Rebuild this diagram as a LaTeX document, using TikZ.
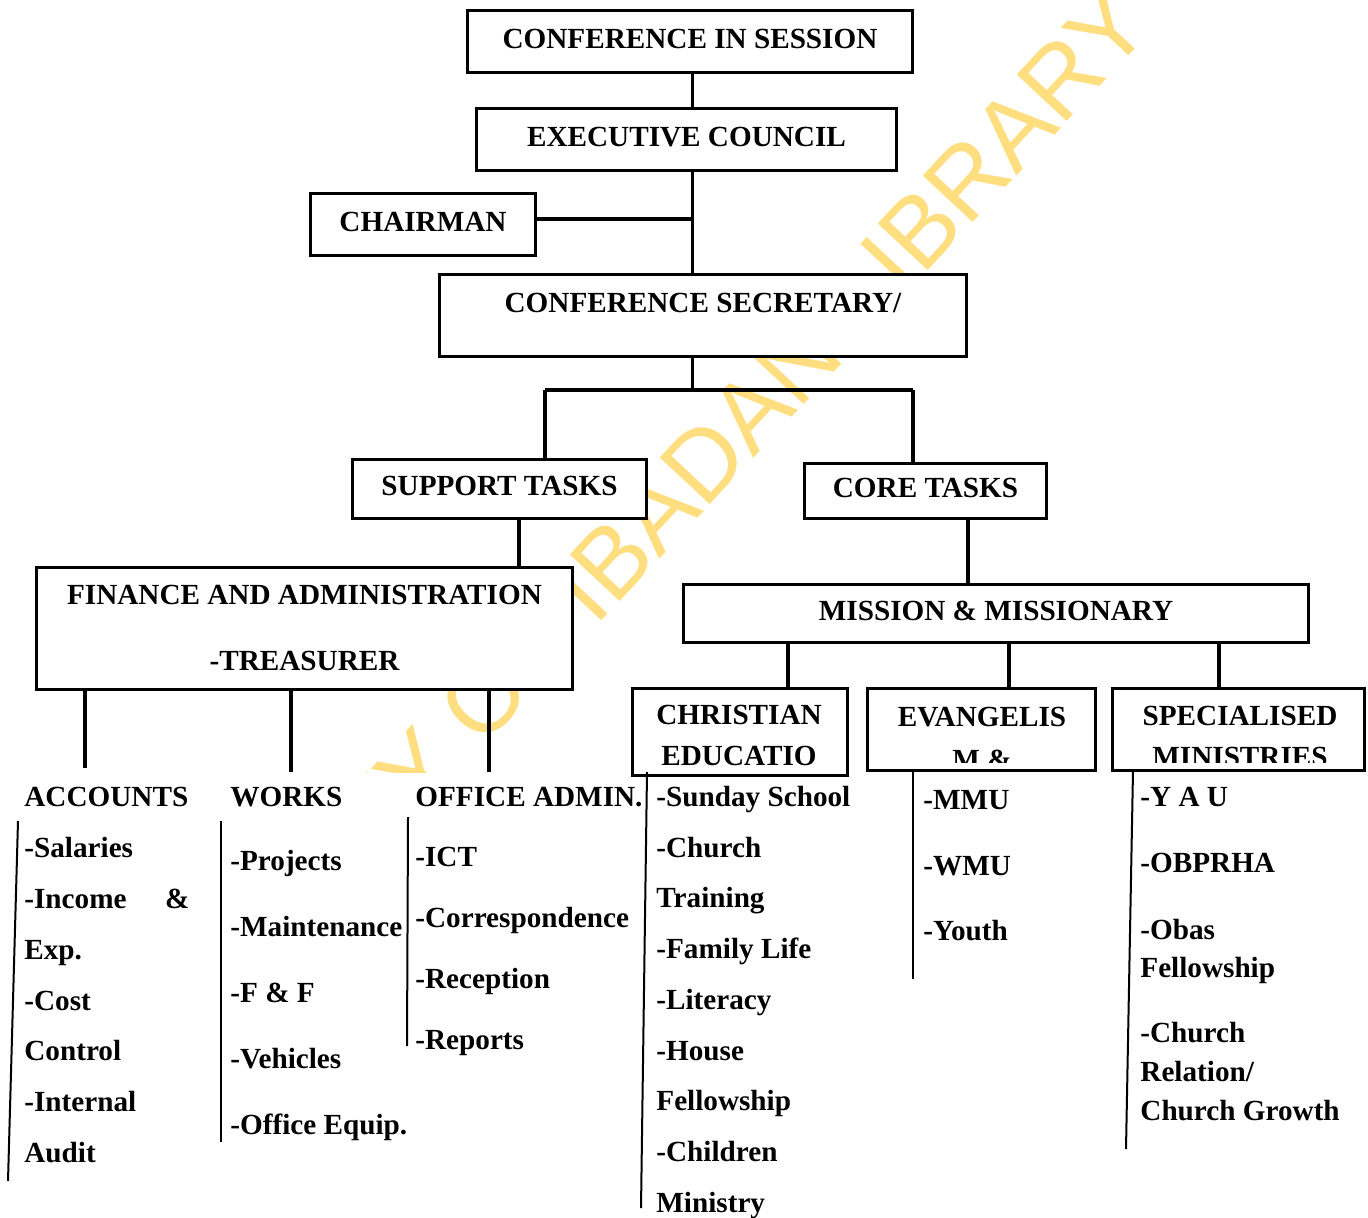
\documentclass[tikz,border=0pt]{standalone}
\usepackage{fontspec}
\setmainfont{Liberation Serif}
\newfontfamily\wmfont{Liberation Sans}
\definecolor{wmyellow}{RGB}{255,222,128}

\begin{document}
\begin{tikzpicture}[x=0.5pt,y=-0.5pt,
    org box/.style={rectangle,draw,fill=white,line width=1.6pt,inner sep=0pt,
        font=\fontsize{14.6}{17}\selectfont\bfseries,text height=9.7pt,text depth=3pt},
    box text/.style={inner sep=0pt,font=\fontsize{14.6}{17}\selectfont\bfseries,
        text height=9.7pt,text depth=0pt},
    list item/.style={anchor=base west,inner sep=0pt,font=\fontsize{14.6}{17}\selectfont\bfseries},
    link/.style={line width=1.6pt},
    list line/.style={line width=1pt}]
    \useasboundingbox (0,0) rectangle (1368,1218);

    % watermark, hidden below by the boxes
    \begin{scope}
    \clip (0,0) rectangle (1368,772);
    \node[rotate=47,anchor=base east,inner sep=0pt,text=wmyellow,
        font=\wmfont\fontsize{49.6}{50}\selectfont] (wm) at (1155,28) {UNIVERSITY OF IBADAN LIBRARY};
    \end{scope}

    % boxes
    \node[org box,minimum width=222.2pt,minimum height=30.8pt] (cis) at (690,41.5) {CONFERENCE IN SESSION};
    \node[org box,minimum width=209.8pt,minimum height=30.8pt] (exec) at (686.5,139.5) {EXECUTIVE COUNCIL};
    \node[org box,minimum width=112.2pt,minimum height=30.8pt] (chair) at (423,224.5) {CHAIRMAN};
    \node[org box,minimum width=263.2pt,minimum height=40.8pt,text depth=12.5pt] (secr) at (703,315.5) {CONFERENCE SECRETARY/};
    \node[org box,minimum width=146.8pt,minimum height=29.2pt] (support) at (499.5,489) {SUPPORT TASKS};
    \node[org box,minimum width=120.8pt,minimum height=27.2pt] (core) at (925.5,491) {CORE TASKS};
    \node[org box,minimum width=267.8pt,minimum height=60.8pt] (fin) at (304.5,628.5) {};
    \node[box text] (fin1) at (304.5,595) {FINANCE AND ADMINISTRATION};
    \node[box text] (fin2) at (304.5,660.5) {-TREASURER};
    \node[org box,minimum width=312.2pt,minimum height=28.8pt] (mission) at (996,613.5) {MISSION \& MISSIONARY};
    \node[org box,minimum width=107.5pt,minimum height=43.2pt] (chr) at (739.75,732) {};
    \node[box text] (chr1) at (739,715) {CHRISTIAN};
    \node[box text] (chr2) at (739,756) {EDUCATIO};
    \node[org box,minimum width=113.8pt,minimum height=40.8pt] (evang) at (981.5,729.5) {};
    \node[org box,minimum width=126pt,minimum height=40.8pt] (spec) at (1238.25,729.5) {};
    \node[box text] (evang1) at (982,717) {EVANGELIS};
    \node[box text] (spec1) at (1240,716) {SPECIALISED};
    \begin{scope}
    \clip (860,690) rectangle (1368,762.5);
    \node[box text] (evang2) at (982,760) {M \&};
    \node[box text] (spec2) at (1240,757) {MINISTRIES};
    \end{scope}

    % connectors
    \coordinate (spine) at (692.5,0);
    \coordinate (chairjoin) at (692.5,219);
    \coordinate (split) at (692.5,390);
    \coordinate (barwest) at (545,390);
    \coordinate (bareast) at (913,390);
    \coordinate (finjoin) at (519,0);
    \coordinate (misjoin) at (968,0);
    \coordinate (accend) at (85,768);
    \coordinate (worksend) at (291,772);
    \coordinate (officeend) at (489,772);
    \coordinate (chrjoin) at (788,0);
    \coordinate (evangjoin) at (1009,0);
    \coordinate (specjoin) at (1219,0);
    \draw[link] (cis.south -| spine) -- (exec.north -| spine);
    \draw[link] (exec.south -| spine) -- (secr.north -| spine);
    \draw[link] (chair.east |- chairjoin) -- (chairjoin);
    \draw[link] (secr.south -| spine) -- (split);
    \draw[link] (barwest) -- (bareast);
    \draw[link] (barwest) -- (barwest |- support.north);
    \draw[link] (bareast) -- (bareast |- core.north);
    \draw[link] (support.south -| finjoin) -- (fin.north -| finjoin);
    \draw[link] (core.south -| misjoin) -- (mission.north -| misjoin);
    \draw[link] (fin.south -| accend) -- (accend);
    \draw[link] (fin.south -| worksend) -- (worksend);
    \draw[link] (fin.south -| officeend) -- (officeend);
    \draw[link] (mission.south -| chrjoin) -- (chr.north -| chrjoin);
    \draw[link] (mission.south -| evangjoin) -- (evang.north -| evangjoin);
    \draw[link] (mission.south -| specjoin) -- (spec.north -| specjoin);

    % lists
    \node[list item] (acc) at (24,806) {ACCOUNTS};
    \node[list item] (acc1) at (24,857) {-Salaries};
    \node[list item] (acc2) at (24,908) {\hbox to 82.5pt{-Income\hfill\&}};
    \node[list item] (acc3) at (24,959) {Exp.};
    \node[list item] (acc4) at (24,1010) {-Cost};
    \node[list item] (acc5) at (24,1060) {Control};
    \node[list item] (acc6) at (24,1111) {-Internal};
    \node[list item] (acc7) at (24,1162) {Audit};

    \node[list item] (works) at (230,806) {WORKS};
    \node[list item] (works1) at (230,870) {-Projects};
    \node[list item] (works2) at (230,936) {-Maintenance};
    \node[list item] (works3) at (230,1002) {-F \& F};
    \node[list item] (works4) at (230,1068) {-Vehicles};
    \node[list item] (works5) at (230,1134) {-Office Equip.};

    \node[list item] (office) at (415,806) {OFFICE ADMIN.};
    \node[list item] (office1) at (415,866) {-ICT};
    \node[list item] (office2) at (415,927) {-Correspondence};
    \node[list item] (office3) at (415,988) {-Reception};
    \node[list item] (office4) at (415,1049) {-Reports};

    \node[list item] (chrl1) at (656,806) {-Sunday School};
    \node[list item] (chrl2) at (656,857) {-Church};
    \node[list item] (chrl3) at (656,907) {Training};
    \node[list item] (chrl4) at (656,958) {-Family Life};
    \node[list item] (chrl5) at (656,1009) {-Literacy};
    \node[list item] (chrl6) at (656,1060) {-House};
    \node[list item] (chrl7) at (656,1110) {Fellowship};
    \node[list item] (chrl8) at (656,1161) {-Children};
    \node[list item] (chrl9) at (656,1212) {Ministry};

    \node[list item] (evl1) at (923,809) {-MMU};
    \node[list item] (evl2) at (923,875) {-WMU};
    \node[list item] (evl3) at (923,940) {-Youth};

    \node[list item] (spl1) at (1140,806) {-Y A U};
    \node[list item] (spl2) at (1140,872) {-OBPRHA};
    \node[list item] (spl3) at (1140,939) {-Obas};
    \node[list item] (spl4) at (1140,977) {Fellowship};
    \node[list item] (spl5) at (1140,1042) {-Church};
    \node[list item] (spl6) at (1140,1081) {Relation/};
    \node[list item] (spl7) at (1140,1120) {Church Growth};

    % list rules
    \coordinate (acctop) at (18,821);
    \coordinate (accbot) at (8,1181);
    \coordinate (workstop) at (221,821);
    \coordinate (worksbot) at (221,1142);
    \coordinate (officetop) at (408,817);
    \coordinate (officebot) at (407,1046);
    \coordinate (chrtop) at (647,772);
    \coordinate (chrbot) at (641,1208);
    \coordinate (evangtop) at (913,770);
    \coordinate (evangbot) at (913,979);
    \coordinate (spectop) at (1133,770);
    \coordinate (specbot) at (1126,1149);
    \draw[list line] (acctop) -- (accbot);
    \draw[list line] (workstop) -- (worksbot);
    \draw[list line] (officetop) -- (officebot);
    \draw[list line] (chrtop) -- (chrbot);
    \draw[list line] (evangtop) -- (evangbot);
    \draw[list line] (spectop) -- (specbot);
\end{tikzpicture}
\end{document}
